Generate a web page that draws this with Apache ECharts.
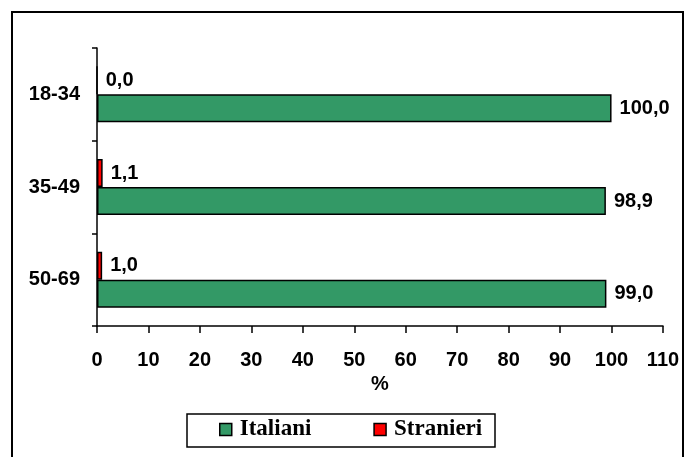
<!DOCTYPE html>
<html>
<head>
<meta charset="utf-8">
<script src="https://cdn.jsdelivr.net/npm/echarts@6/dist/echarts.min.js"></script>
<style>
  html, body { margin: 0; padding: 0; background: #fff; }
  #chart { width: 685px; height: 457px; }
</style>
</head>
<body>
<div id="chart"></div>
<script>
// Age groups, listed bottom to top along the category axis
const ageGroups = ['50-69', '35-49', '18-34'];
// Share of Italian and foreign citizens (%) for each age group
const italiani = [99.0, 98.9, 100.0];
const stranieri = [1.0, 1.1, 0.0];
const seriesNames = ['Italiani', 'Stranieri'];

const sans = '"Liberation Sans", Arial, sans-serif';
const serif = '"Liberation Serif", "Times New Roman", serif';

const fmt = p => p.value.toFixed(1).replace('.', ',');

const labelStyle = {
  show: true,
  position: 'right',
  distance: 8,
  formatter: fmt,
  color: '#000',
  fontFamily: sans,
  fontWeight: 'bold',
  fontSize: 20
};

const chart = echarts.init(document.getElementById('chart'), null, { renderer: 'canvas' });

chart.setOption({
  animation: false,
  backgroundColor: '#fff',
  textStyle: { fontFamily: sans },
  graphic: [
    {
      type: 'rect',
      shape: { x: 12, y: 12, width: 671, height: 460 },
      style: { fill: 'none', stroke: '#000', lineWidth: 2 },
      silent: true
    },
    {
      type: 'rect',
      shape: { x: 187, y: 414, width: 308, height: 33 },
      style: { fill: 'none', stroke: '#000', lineWidth: 1.5 },
      silent: true
    }
  ],
  grid: { left: 97, right: 22, top: 48, bottom: 131, containLabel: false },
  legend: {
    data: seriesNames,
    left: 219,
    top: 418,
    itemWidth: 12,
    itemHeight: 12,
    itemGap: 62,
    icon: 'rect',
    itemStyle: { borderColor: '#000', borderWidth: 1.5 },
    textStyle: { fontFamily: serif, fontWeight: 'bold', fontSize: 23, color: '#000', padding: [0, 0, 0, 3] },
    padding: 0
  },
  xAxis: {
    type: 'value',
    min: 0,
    max: 110,
    interval: 10,
    name: '%',
    nameLocation: 'middle',
    nameGap: 44,
    nameTextStyle: { fontFamily: sans, fontWeight: 'bold', fontSize: 20, color: '#000' },
    axisLine: { show: true, lineStyle: { color: '#000', width: 1.5 } },
    axisTick: { show: true, length: 7, lineStyle: { color: '#000', width: 1.5 } },
    axisLabel: { margin: 24, fontFamily: sans, fontWeight: 'bold', fontSize: 20, color: '#000' },
    splitLine: { show: false }
  },
  yAxis: {
    type: 'category',
    data: ageGroups,
    axisLine: { show: true, lineStyle: { color: '#000', width: 1.5 } },
    axisTick: { show: true, length: 5, lineStyle: { color: '#000', width: 1.5 } },
    axisLabel: { margin: 17, fontFamily: sans, fontWeight: 'bold', fontSize: 20, color: '#000' },
    splitLine: { show: false }
  },
  // Stranieri is listed first so its bar sits above the Italiani bar in each group
  series: [
    {
      name: seriesNames[1],
      type: 'bar',
      data: stranieri,
      barWidth: 28,
      barGap: '0%',
      itemStyle: { color: '#ff0000', borderColor: '#000', borderWidth: 1.5 },
      label: labelStyle
    },
    {
      name: seriesNames[0],
      type: 'bar',
      data: italiani,
      barWidth: 28,
      barGap: '0%',
      itemStyle: { color: '#339966', borderColor: '#000', borderWidth: 1.5 },
      label: labelStyle
    }
  ]
});
</script>
</body>
</html>
